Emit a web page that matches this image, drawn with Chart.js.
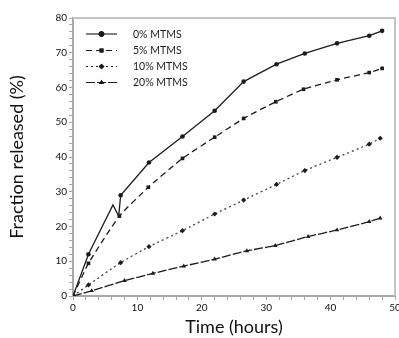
<!DOCTYPE html>
<html>
<head>
<meta charset="utf-8">
<script src="https://cdn.jsdelivr.net/npm/chart.js@4"></script>
<style>
  html, body { margin: 0; padding: 0; background: #fff; }
  #wrap { width: 399px; height: 338px; }
</style>
</head>
<body>
<div id="wrap"><canvas id="myChart" width="399" height="338"></canvas></div>
<script>
// series names
var seriesNames = ["0% MTMS", "5% MTMS", "10% MTMS", "20% MTMS"];

// time (hours) and fraction released (%)
var hours0 = [0, 2.4, 6.2, 7.1, 7.4, 11.8, 17, 22, 26.5, 31.6, 36, 41, 46, 48];
var release0 = [0, 12, 26.2, 23, 29, 38.4, 45.9, 53.3, 61.7, 66.7, 69.8, 72.7, 74.9, 76.3];

var hours5 = [0, 2.4, 7.2, 11.7, 17, 22, 26.5, 31.5, 35.8, 41, 46, 48];
var release5 = [0, 9.4, 23, 31.3, 39.6, 45.7, 51.1, 55.9, 59.5, 62.2, 64.3, 65.5];

var hours10 = [0, 2.4, 7.4, 11.8, 17, 22, 26.5, 31.6, 36, 41, 46, 47.7];
var release10 = [0, 3.2, 9.6, 14.2, 18.8, 23.6, 27.6, 32.1, 36.1, 39.9, 43.7, 45.4];

var hours20 = [0, 2.9, 8, 12.4, 17.2, 22, 27, 31.4, 36.5, 41, 46, 47.7];
var release20 = [0, 1.5, 4.4, 6.5, 8.6, 10.6, 13, 14.5, 17.1, 19, 21.4, 22.4];

// axis ticks
var xTickLabels = [0, 10, 20, 30, 40, 50];
var yTickLabels = [0, 10, 20, 30, 40, 50, 60, 70, 80];

function toPoints(xs, ys) {
  var pts = [];
  for (var i = 0; i < xs.length; i++) {
    pts.push({ x: xs[i], y: ys[i] });
  }
  return pts;
}

var ink = "#1c1c1c";
var font = "Lato, 'Open Sans', sans-serif";

// legend drawn inside the plot, top left
var insideLegend = {
  id: "insideLegend",
  afterDraw: function (chart) {
    var c = chart.ctx;
    var rows = [34, 50.5, 66.5, 82.5];
    chart.data.datasets.forEach(function (ds, i) {
      var y = rows[i];
      c.save();
      c.strokeStyle = ink;
      c.lineWidth = 1.1;
      c.setLineDash(ds.borderDash || []);
      c.beginPath();
      c.moveTo(86, y);
      c.lineTo(117, y);
      c.stroke();
      c.setLineDash([]);
      Chart.helpers.drawPoint(c, { pointStyle: ds.pointStyle, radius: 2.8, rotation: 0, borderWidth: 0 }, 101.5, y);
      c.fillStyle = ink;
      c.fill();
      c.font = "10.5px " + font;
      c.textBaseline = "middle";
      c.fillText(ds.label, 133, y + 0.5);
      c.restore();
    });
  },
};

// light grey frame on top and right
var frame = {
  id: "frame",
  beforeDatasetsDraw: function (chart) {
    var a = chart.chartArea;
    var c = chart.ctx;
    c.save();
    c.strokeStyle = "#c4c4c4";
    c.lineWidth = 2;
    c.beginPath();
    c.moveTo(a.left, a.top);
    c.lineTo(a.right, a.top);
    c.lineTo(a.right, a.bottom);
    c.stroke();
    c.restore();
  },
};

function lineSet(i, xs, ys, opts) {
  var ds = {
    label: seriesNames[i],
    data: toPoints(xs, ys),
    showLine: true,
    borderColor: ink,
    backgroundColor: ink,
    borderWidth: 1.3,
    tension: 0.15,
    pointBorderWidth: 0,
    pointRadius: 2.4,
  };
  for (var k in opts) ds[k] = opts[k];
  return ds;
}

var ctx = document.getElementById("myChart").getContext("2d");
var myChart = new Chart(ctx, {
  type: "scatter",
  data: {
    datasets: [
      lineSet(0, hours0, release0, {
        pointStyle: "circle",
        tension: 0,
        pointRadius: function (c) {
          return c.dataIndex === 2 || c.dataIndex === 3 ? 0 : 2.3;
        },
      }),
      lineSet(1, hours5, release5, { borderDash: [6, 4], pointStyle: "rect", pointRadius: 2.6 }),
      lineSet(2, hours10, release10, { borderDash: [2, 3], borderColor: "#444", pointStyle: "rectRot", pointRadius: 2.6 }),
      lineSet(3, hours20, release20, { borderDash: [9, 2], pointStyle: "triangle", pointRadius: 2.6 }),
    ],
  },
  options: {
    responsive: false,
    animation: false,
    layout: { padding: { top: 18, right: 0, left: 0, bottom: 0 } },
    plugins: {
      legend: { display: false },
      tooltip: { enabled: false },
    },
    scales: {
      x: {
        type: "linear",
        min: 0,
        max: 50,
        afterFit: function (s) { s.height = 42; s.paddingRight = 4; },
        border: { color: "#a8a8a8", width: 2 },
        grid: { drawOnChartArea: false, drawTicks: true, tickLength: 4, color: "#a8a8a8" },
        ticks: {
          stepSize: 2,
          autoSkip: false,
          maxRotation: 0,
          padding: 2,
          color: "#111",
          font: { family: font, size: 10 },
          callback: function (v) { return xTickLabels.indexOf(v) >= 0 ? v : ""; },
        },
        title: {
          display: true,
          text: "Time (hours)",
          color: "#111",
          font: { family: font, size: 18 },
          padding: { top: -2, bottom: 0 },
        },
      },
      y: {
        min: 0,
        max: 80,
        afterFit: function (s) { s.width = 73; },
        border: { color: "#a8a8a8", width: 2 },
        grid: { drawOnChartArea: false, drawTicks: true, tickLength: 4, color: "#a8a8a8" },
        ticks: {
          stepSize: 2,
          autoSkip: false,
          padding: 2,
          color: "#111",
          font: { family: font, size: 10 },
          callback: function (v) { return yTickLabels.indexOf(v) >= 0 ? v : ""; },
        },
        title: {
          display: true,
          text: "Fraction released (%)",
          color: "#111",
          font: { family: font, size: 18 },
          padding: { top: 6, bottom: 8 },
        },
      },
    },
  },
  plugins: [frame, insideLegend],
});
</script>
</body>
</html>
